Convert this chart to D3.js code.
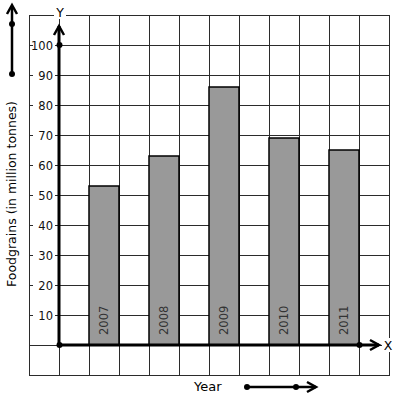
<!DOCTYPE html>
<html>
<head>
<meta charset="utf-8">
<script src="https://cdn.jsdelivr.net/npm/d3@7"></script>
<style>
  body { margin: 0; background: #fff; }
  svg text { font-family: "DejaVu Sans", sans-serif; }
</style>
</head>
<body>
<div id="chart"></div>
<script>
var years = ["2007", "2008", "2009", "2010", "2011"];
var foodgrains = [53, 63, 86, 69, 65];
var tickValues = [10, 20, 30, 40, 50, 60, 70, 80, 90, 100];

var width = 397, height = 401;

var svg = d3.select("#chart").append("svg")
    .attr("width", width)
    .attr("height", height);

// value scale: 10 units per grid row
var y = d3.scaleLinear().domain([0, 100]).range([345, 45]);
var x = d3.scaleBand().domain(years).range([59, 389])
    .paddingInner(0.5).paddingOuter(0.5);
// grid columns
var gx = d3.scaleLinear().domain([0, 12]).range([29, 389]);

// grid
var grid = svg.append("g").attr("stroke", "#2b2b2b").attr("stroke-width", 1);
grid.selectAll("line.v").data(d3.range(0, 13)).join("line")
    .attr("class", "v")
    .attr("x1", d => gx(d) + 0.5).attr("x2", d => gx(d) + 0.5)
    .attr("y1", y(110)).attr("y2", y(-10));
grid.selectAll("line.h").data(d3.range(-10, 111, 10)).join("line")
    .attr("class", "h")
    .attr("x1", gx(0)).attr("x2", gx(12) + 1)
    .attr("y1", d => y(d) + 0.5).attr("y2", d => y(d) + 0.5);

// bars
svg.append("g").selectAll("rect").data(years).join("rect")
    .attr("x", d => x(d))
    .attr("y", (d, i) => y(foodgrains[i]))
    .attr("width", x.bandwidth())
    .attr("height", (d, i) => y(0) - y(foodgrains[i]))
    .attr("fill", "#999999")
    .attr("stroke", "#000")
    .attr("stroke-width", 1.5);

// year labels inside bars
svg.append("g").selectAll("text").data(years).join("text")
    .attr("transform", d => "translate(" + (x(d) + x.bandwidth() / 2 + 4) + "," + (y(0) - 10) + ") rotate(-90)")
    .attr("font-size", 11.5)
    .attr("fill", "#333")
    .text(d => d);

// tick labels with white backing over the grid
var ticks = svg.append("g");
ticks.selectAll("rect").data(tickValues).join("rect")
    .attr("x", 33).attr("width", 22)
    .attr("y", d => y(d) - 6).attr("height", 12)
    .attr("fill", "#fff");
ticks.selectAll("text").data(tickValues).join("text")
    .attr("x", 53).attr("y", d => y(d) + 4.5)
    .attr("text-anchor", "end")
    .attr("font-size", 11.5)
    .attr("fill", "#111")
    .text(d => d);

// axes
var axes = svg.append("g").attr("stroke", "#000").attr("fill", "none")
    .attr("stroke-width", 3);
axes.append("line").attr("x1", 59).attr("x2", 59).attr("y1", y(0)).attr("y2", 26);
axes.append("line").attr("x1", 59).attr("x2", 379).attr("y1", y(0)).attr("y2", y(0));
axes.append("path").attr("stroke-width", 2.5).attr("d", "M54,35 L59,26 L64,35");
axes.append("path").attr("stroke-width", 2.5).attr("d", "M370,340 L379,345 L370,350");
svg.append("g").selectAll("circle")
    .data([[59, y(0)], [59, y(100)], [gx(11), y(0)]]).join("circle")
    .attr("cx", d => d[0] + 0.5).attr("cy", d => d[1]).attr("r", 3).attr("fill", "#000");

// axis letters
svg.append("rect").attr("x", 54).attr("y", 5).attr("width", 12).attr("height", 14).attr("fill", "#fff");
svg.append("text").attr("x", 60).attr("y", 17).attr("text-anchor", "middle")
    .attr("font-size", 12.5).text("Y");
svg.append("rect").attr("x", 382).attr("y", 338).attr("width", 12).attr("height", 14).attr("fill", "#fff");
svg.append("text").attr("x", 388).attr("y", 350).attr("text-anchor", "middle")
    .attr("font-size", 12.5).text("X");

// axis titles
svg.append("text")
    .attr("transform", "translate(16,194) rotate(-90)")
    .attr("text-anchor", "middle")
    .attr("font-size", 12.5)
    .text("Foodgrains (in million tonnes)");
svg.append("text").attr("x", 194).attr("y", 391)
    .attr("font-size", 13).text("Year");

// direction arrows
var deco = svg.append("g").attr("stroke", "#000").attr("fill", "none").attr("stroke-width", 2.5);
deco.append("line").attr("x1", 12).attr("x2", 12).attr("y1", 74).attr("y2", 6);
deco.append("path").attr("d", "M7,14 L12,5 L17,14");
deco.append("line").attr("x1", 247).attr("x2", 316).attr("y1", 387).attr("y2", 387);
deco.append("path").attr("d", "M307,382 L316,387 L307,392");
svg.append("g").selectAll("circle")
    .data([[12, 24], [12, 74], [247, 387], [296, 387]]).join("circle")
    .attr("cx", d => d[0]).attr("cy", d => d[1]).attr("r", 3).attr("fill", "#000");
</script>
</body>
</html>
